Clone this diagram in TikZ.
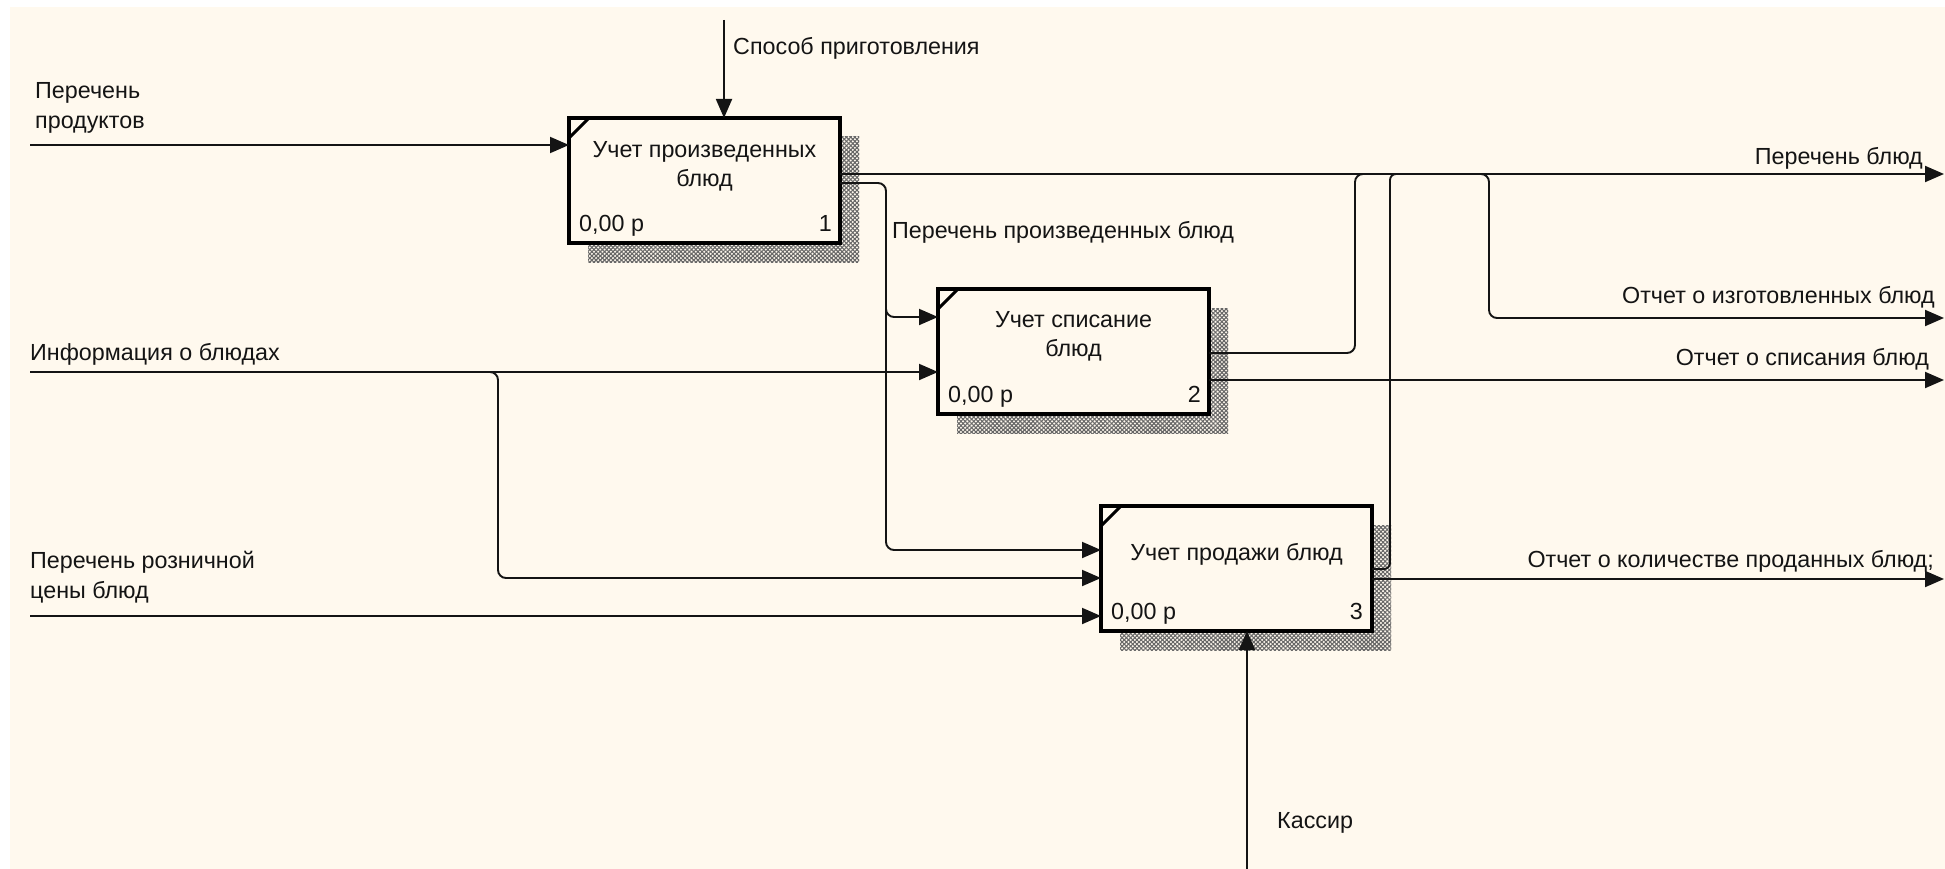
\documentclass[tikz,border=0pt]{standalone}
\usepackage{fontspec}
\setmainfont{Liberation Sans}
\usetikzlibrary{arrows.meta,calc,patterns.meta}
\definecolor{paper}{HTML}{FFF9EE}
\definecolor{ink}{HTML}{141414}
\pgfdeclarelayer{back}
\pgfdeclarelayer{shade}
\pgfsetlayers{back,shade,main}

\begin{document}
\begin{tikzpicture}[x=1pt,y=-1pt,
  conn/.style={draw=ink,line width=1.9pt},
  arr/.style={conn,-{Triangle[length=19pt,width=16pt]}},
  rc/.style={rounded corners=8pt},
  func/.style={draw=black,line width=3.5pt,fill=paper,minimum width=271pt,
    minimum height=125pt,inner sep=0pt,outer sep=0pt},
  lbl/.style={font=\fontsize{23.3}{30}\selectfont,inner sep=0pt,text=ink},
  ttl/.style={lbl,align=center,font=\fontsize{23.3}{29}\selectfont},
  hatchA/.style={pattern={Lines[angle=45,distance=3pt,line width=1.1pt]},pattern color=gray!80!black},
  hatchB/.style={pattern={Lines[angle=-45,distance=3pt,line width=1.1pt]},pattern color=gray!80!black},
]
% page
\useasboundingbox (0,0) rectangle (1945,869);
\begin{pgfonlayer}{back}
  \fill[white] (0,0) rectangle (1945,869);
  \fill[paper] (10,7) rectangle (1945,869);
\end{pgfonlayer}

% function blocks
\node[func] (b1) at (704.5,180.5) {};
\node[func] (b2) at (1073.5,351.5) {};
\node[func] (b3) at (1236.5,568.5) {};

% hatched shadows
\begin{pgfonlayer}{shade}
  \foreach \b in {b1,b2,b3}{
    \fill[hatchA] ($(\b.north west)+(19,19)$) rectangle ($(\b.south east)+(19,19)$);
    \fill[hatchB] ($(\b.north west)+(19,19)$) rectangle ($(\b.south east)+(19,19)$);
  }
\end{pgfonlayer}

% corner ticks
\foreach \b in {b1,b2,b3}{
  \draw[line width=3pt] ($(\b.north west)+(0,20)$) -- ($(\b.north west)+(20,0)$);
}

% block texts
\node[ttl] (t1) at ($(b1.north)+(0,48)$) {Учет произведенных\\блюд};
\node[ttl] (t2) at ($(b2.north)+(0,47)$) {Учет списание\\блюд};
\node[ttl] (t3) at ($(b3.north)+(0,48)$) {Учет продажи блюд};
\node[lbl,anchor=base west] (c1) at ($(b1.south west)+(10,-12)$) {0,00 р};
\node[lbl,anchor=base west] (c2) at ($(b2.south west)+(10,-12)$) {0,00 р};
\node[lbl,anchor=base west] (c3) at ($(b3.south west)+(10,-12)$) {0,00 р};
\node[lbl,anchor=base east] (n1) at ($(b1.south east)+(-8,-12)$) {1};
\node[lbl,anchor=base east] (n2) at ($(b2.south east)+(-8,-12)$) {2};
\node[lbl,anchor=base east] (n3) at ($(b3.south east)+(-9,-12)$) {3};

% free ends and bend points
\coordinate (in1) at (30,145);
\coordinate (in2) at (30,372);
\coordinate (in3) at (30,616);
\coordinate (ctl) at (724,20);
\coordinate (mech) at (1247,869);
\coordinate (outTop) at (1944,174);
\coordinate (outIzg) at (1944,318);
\coordinate (outSp) at (1944,380);
\coordinate (outKol) at (1944,579);
\coordinate (j1) at (886,183);
\coordinate (j2) at (498,372);
\coordinate (u2) at (1355,174);
\coordinate (u3) at (1390,174);
\coordinate (d1) at (1489,174);
\coordinate (Y2a) at (0,317);
\coordinate (Y2o) at (0,353);
\coordinate (Y3a) at (0,550);
\coordinate (Y3b) at (0,578);
\coordinate (Y3o) at (0,569);

% inputs
\draw[arr] (in1) -- (in1 -| b1.west);
\draw[arr] (in2) -- (in2 -| b2.west);
\draw[arr] (in3) -- (in3 -| b3.west);
\draw[arr,rc] ($(j2)+(-20,0)$) -- (j2) -- (j2 |- Y3b) -- (Y3b -| b3.west);

% control and mechanism
\draw[arr] (ctl) -- (ctl |- b1.north);
\draw[arr] (mech) -- (mech |- b3.south);

% outputs of block 1
\draw[arr] (outTop -| b1.east) -- (outTop);
\draw[arr,rc] (j1 -| b1.east) -- (j1) -- (j1 |- Y3a) -- (Y3a -| b3.west);
\draw[arr,rc] ($(j1 |- Y2a)+(0,-30)$) -- (j1 |- Y2a) -- (Y2a -| b2.west);

% outputs of block 2
\draw[conn,rc] (Y2o -| b2.east) -- (u2 |- Y2o) -- (u2) -- ($(u2)+(20,0)$);
\draw[arr] (outSp -| b2.east) -- (outSp);

% outputs of block 3
\draw[conn,rounded corners=6pt] (Y3o -| b3.east) -- (u3 |- Y3o) -- (u3) -- ($(u3)+(20,0)$);
\draw[arr] (outKol -| b3.east) -- (outKol);

% branch to the report on produced dishes
\draw[arr,rc] ($(d1)+(-20,0)$) -- (d1) -- (d1 |- outIzg) -- (outIzg);

% arrow labels
\node[lbl,anchor=west,align=left] (l1) at (35,108) {Перечень\\продуктов};
\node[lbl,anchor=west] (l2) at (733,48) {Способ приготовления};
\node[lbl,anchor=west] (l3) at (892,232) {Перечень произведенных блюд};
\node[lbl,anchor=west] (l4) at (30,354) {Информация о блюдах};
\node[lbl,anchor=west,align=left] (l5) at (30,577) {Перечень розничной\\цены блюд};
\node[lbl,anchor=east] (l6) at (1923,158) {Перечень блюд};
\node[lbl,anchor=east] (l7) at (1935,297) {Отчет о изготовленных блюд};
\node[lbl,anchor=east] (l8) at (1929,359) {Отчет о списания блюд};
\node[lbl,anchor=east] (l9) at (1934,561) {Отчет о количестве проданных блюд;};
\node[lbl,anchor=west] (l10) at (1277,823) {Кассир};
\end{tikzpicture}
\end{document}
